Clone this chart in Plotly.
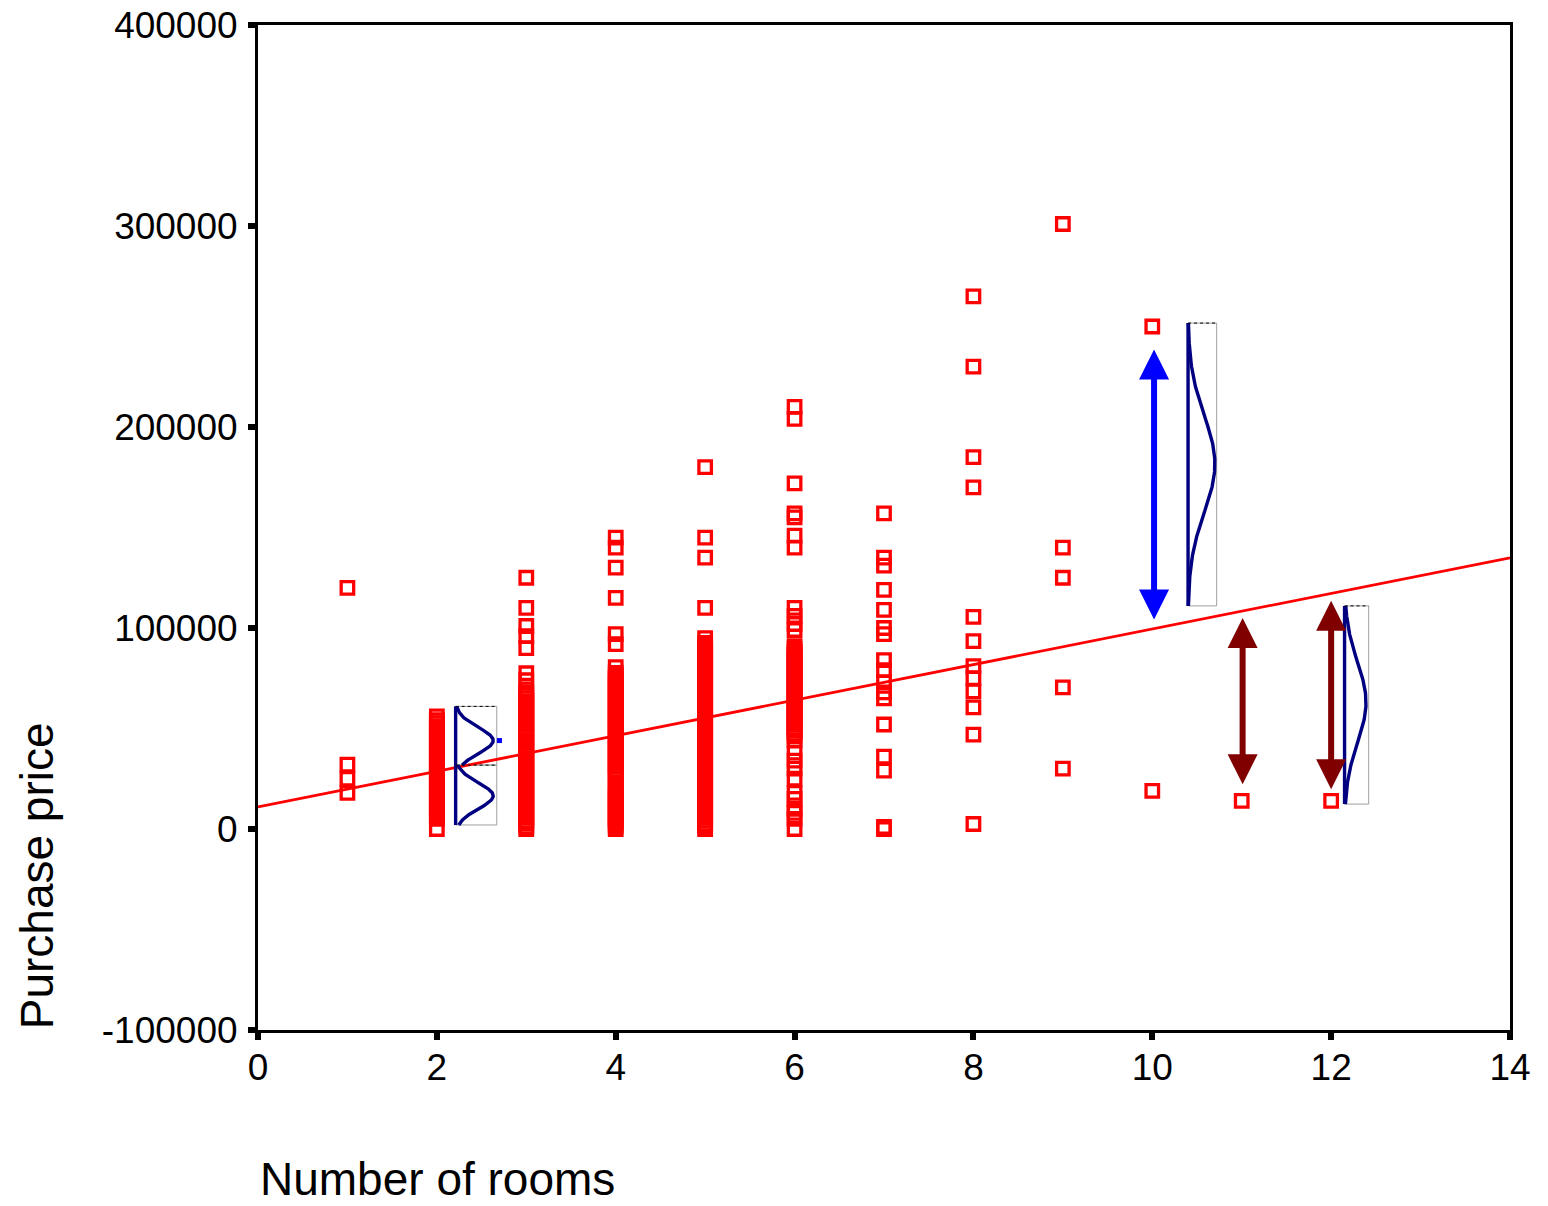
import numpy as np
import plotly.graph_objects as go

# ---------------- data (prices in thousands for dense columns) ----------------
rooms_1 = [1, 1, 1, 1]
price_1 = [120000, 32000, 25000, 18000]

price_2k = [0, 5, 6.3, 7.9, 9.2, 10.8, 12.1, 13.7, 15.2, 16.6, 18.1, 19.5, 21.2, 22.6, 24.0,
            25.7, 27.1, 28.5, 30.2, 31.6, 33.0, 34.7, 36.1, 37.6, 39.0, 40.6, 42.1, 43.5,
            45.0, 46.6, 48.0, 49.5, 51.0, 52.6, 54.1, 56.0]
price_3k = [0, 1.2, 2.8, 4.1, 5.7, 7.2, 8.6, 10.1, 11.7, 13.0, 14.6, 16.1, 17.5, 19.0, 20.6,
            22.0, 23.5, 25.1, 26.4, 28.0, 29.5, 30.9, 32.4, 34.0, 35.3, 36.9, 38.4, 39.8,
            41.3, 42.9, 44.2, 45.8, 47.3, 48.7, 50.2, 51.8, 53.1, 54.7, 56.2, 57.6, 59.1,
            60.7, 62.0, 63.6, 65.1, 66.5, 68.0, 69.5, 74.0, 77.5,
            90.0, 96.0, 101.0, 110.0, 125.0]
price_4k = [0, 1.4, 2.9, 4.3, 5.8, 7.3, 8.7, 10.2, 11.6, 13.1, 14.6, 16.0, 17.5, 18.9, 20.4,
            21.9, 25.0, 26.6, 28.1, 29.5, 31.0, 32.5, 33.9, 35.4, 36.8, 38.3, 39.8, 41.2,
            42.7, 44.1, 45.6, 47.1, 48.5, 50.0, 51.4, 52.9, 54.4, 55.8, 57.3, 58.7, 60.2,
            61.7, 63.1, 64.6, 66.0, 67.5, 69.0, 70.4, 71.9, 73.3, 74.8, 76.3, 77.7, 80.5,
            92.0, 97.0, 115.0, 130.0, 140.0, 145.0]
price_5k = [0, 1.3, 2.7, 4.2, 5.6, 7.1, 8.5, 10.0, 11.4, 12.9, 14.3, 15.8, 17.2, 18.7, 20.1,
            21.6, 23.0, 24.5, 25.9, 27.4, 28.8, 30.3, 31.7, 33.2, 34.6, 36.1, 37.5, 39.0,
            40.4, 41.9, 43.3, 44.8, 46.2, 47.7, 49.1, 50.6, 52.0, 53.5, 54.9, 56.4, 57.8,
            59.3, 60.7, 62.2, 63.6, 65.1, 66.5, 68.0, 69.4, 70.9, 72.3, 73.8, 75.2, 76.7,
            78.1, 79.6, 81.0, 82.5, 83.9, 85.4, 86.8, 88.3, 89.7, 91.2, 92.6, 95.0,
            110.0, 135.0, 145.0, 180.0]
price_6k = [210.0, 204.0, 172.0, 157.0, 155.0, 146.0, 140.0, 110.0, 106.0, 102.0, 99.0,
            91.0, 89.6, 88.1, 86.7, 85.2, 83.8, 82.3, 80.9, 79.4, 78.0, 76.5, 75.1, 73.6,
            72.2, 70.7, 69.3, 67.8, 66.4, 64.9, 63.5, 62.0, 60.6, 59.1, 57.7, 56.2, 54.8,
            53.3, 51.9, 50.4, 49.0, 47.5, 46.1, 44.0,
            38.0, 34.0, 30.0, 25.0, 18.0, 15.0, 10.0, 8.0, 5.0, 0]
price_7 = [157000, 135000, 131000, 119000, 109000, 100000, 97000, 84000, 79000, 73000,
           68000, 65000, 52000, 36000, 29000, 1000, 0]
price_8 = [265000, 230000, 185000, 170000, 105500, 93500, 81000, 75000, 68500, 60500,
           47000, 2500]
price_9 = [301000, 140000, 125000, 70500, 30000]
price_10 = [250000, 19000]
price_11 = [14000]
price_12 = [14000]

groups = {1: price_1,
          2: [v * 1000 for v in price_2k],
          3: [v * 1000 for v in price_3k],
          4: [v * 1000 for v in price_4k],
          5: [v * 1000 for v in price_5k],
          6: [v * 1000 for v in price_6k],
          7: price_7, 8: price_8, 9: price_9, 10: price_10, 11: price_11, 12: price_12}

# regression line (intercept, slope)
reg_intercept = 11000
reg_slope = 8850
reg_x = [0, 14]

x_ticks = [0, 2, 4, 6, 8, 10, 12, 14]
y_ticks = [-100000, 0, 100000, 200000, 300000, 400000]

# illustrative arrows: (x, y_top, y_bottom, colour)
arrows = [(10.02, 238500, 103500, "#0000FF"),
          (11.01, 105000, 21500, "#800000"),
          (12.0, 113500, 19000, "#800000")]

# illustrative normal curves: (x_base, x_box_right, peak_x, y_lo, y_hi, mu, sigma)
bells = [(2.21, 2.67, 2.63, 31800, 61000, 44000, 6500),
         (2.21, 2.67, 2.63, 2000, 31800, 16500, 6500),
         (10.40, 10.72, 10.70, 111000, 251700, 181600, 24000),
         (12.15, 12.42, 12.39, 12400, 111000, 63000, 20000)]

FONT = "Liberation Sans, Arial, sans-serif"

# ---------------- figure ----------------
fig = go.Figure()

shapes = []
for (xb, xr, xp, ylo, yhi, mu, sd) in bells:
    shapes.append(dict(type="rect", xref="x", yref="y", x0=xb, x1=xr, y0=ylo, y1=yhi,
                       line=dict(color="#A0A0A0", width=1), layer="below"))
    shapes.append(dict(type="line", xref="x", yref="y", x0=xb, x1=xr, y0=yhi, y1=yhi,
                       line=dict(color="#000000", width=1, dash="dot")))

xs, ys = [], []
for k, v in groups.items():
    xs += [k] * len(v)
    ys += v

fig.add_trace(go.Scatter(
    x=xs, y=ys, mode="markers",
    marker=dict(symbol="square-open", size=12.5, color="#FF0000",
                line=dict(width=3.3, color="#FF0000")),
    showlegend=False, hoverinfo="x+y"))

fig.add_trace(go.Scatter(
    x=reg_x, y=[reg_intercept + reg_slope * v for v in reg_x],
    mode="lines", line=dict(color="#FF0000", width=2.8),
    showlegend=False, hoverinfo="skip"))

for (xb, xr, xp, ylo, yhi, mu, sd) in bells:
    yy = np.linspace(ylo, yhi, 150)
    xx = xb + (xp - xb) * np.exp(-0.5 * ((yy - mu) / sd) ** 2)
    fig.add_trace(go.Scatter(x=xx, y=yy, mode="lines",
                             line=dict(color="#000080", width=3.4),
                             showlegend=False, hoverinfo="skip"))
    fig.add_trace(go.Scatter(x=[xb, xb], y=[ylo, yhi], mode="lines",
                             line=dict(color="#000080", width=3.4),
                             showlegend=False, hoverinfo="skip"))

# tiny marks near the first bell
fig.add_trace(go.Scatter(x=[2.7], y=[44000], mode="markers",
                         marker=dict(symbol="square", size=5, color="#0000FF"),
                         showlegend=False, hoverinfo="skip"))

annotations = []
for (ax_x, ytop, ybot, col) in arrows:
    annotations.append(dict(x=ax_x, y=ytop, ax=ax_x, ay=ybot, xref="x", yref="y",
                            axref="x", ayref="y", text="", showarrow=True,
                            arrowhead=2, arrowside="end+start", arrowsize=1.0,
                            arrowwidth=6, arrowcolor=col))

annotations.append(dict(text="Number of rooms", xref="paper", yref="paper",
                        x=0, y=-0.148, xanchor="left", yanchor="middle", showarrow=False,
                        font=dict(size=46, color="#000000", family=FONT)))
annotations.append(dict(text="Purchase price", xref="paper", yref="paper",
                        x=-0.1765, y=0.153, xanchor="center", yanchor="middle",
                        textangle=-90, showarrow=False,
                        font=dict(size=46, color="#000000", family=FONT)))

fig.update_layout(
    width=1548, height=1206,
    margin=dict(l=258, r=38, t=25, b=176),
    paper_bgcolor="white", plot_bgcolor="white",
    font=dict(family=FONT, color="#000000", size=37),
    shapes=shapes, annotations=annotations, showlegend=False,
)
fig.update_xaxes(range=[0, 14], tickvals=x_ticks, ticktext=[str(v) for v in x_ticks],
                 showgrid=False, zeroline=False, showline=True, linecolor="#000000",
                 linewidth=3, mirror=True, ticks="outside", ticklen=7, tickwidth=6,
                 tickcolor="#000000", tickfont=dict(size=37), ticklabelstandoff=-4,
                 automargin=False)
fig.update_yaxes(range=[-100000, 400000], tickvals=y_ticks, ticktext=[str(v) for v in y_ticks],
                 showgrid=False, zeroline=False, showline=True, linecolor="#000000",
                 linewidth=3, mirror=True, ticks="outside", ticklen=7, tickwidth=6,
                 tickcolor="#000000", tickfont=dict(size=37), ticklabelstandoff=3,
                 automargin=False)

fig.write_html("out.html")
